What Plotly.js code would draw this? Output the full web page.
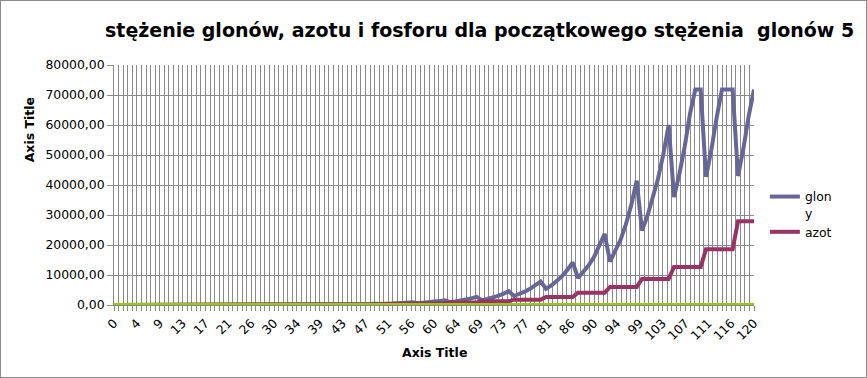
<!DOCTYPE html>
<html>
<head>
<meta charset="utf-8">
<script src="https://cdn.plot.ly/plotly-3.0.1.min.js"></script>
<style>
  html, body { margin: 0; padding: 0; background: #ffffff; }
  #wrap { position: relative; width: 867px; height: 378px; }
  #chart { width: 867px; height: 378px; }
  #frame { position: absolute; left: 0; top: 0; width: 865px; height: 376px; border: 1px solid #8c8c8c; pointer-events: none; }
</style>
</head>
<body>
<div id="wrap"><div id="chart"></div><div id="frame"></div></div>
<script>
// ---- data ----
const czas = [0,1,2,3,4,5,6,7,8,9,10,11,12,13,14,15,16,17,18,19,20,21,22,23,24,25,26,27,28,29,30,
  31,32,33,34,35,36,37,38,39,40,41,42,43,44,45,46,47,48,49,50,51,52,53,54,55,56,57,58,59,60,
  61,62,63,64,65,66,67,68,69,70,71,72,73,74,75,76,77,78,79,80,81,82,83,84,85,86,87,88,89,90,
  91,92,93,94,95,96,97,98,99,100,101,102,103,104,105,106,107,108,109,110,111,112,113,114,115,116,117,118,119,120];

const glony = [5, 6, 8, 5, 6, 7.5, 9, 11.5, 14,
  8.5, 10.5, 13, 16, 19, 23,
  14, 17, 21, 26, 32, 40,
  24, 29, 36, 45, 55, 68,
  41, 50, 62, 76, 94, 115,
  69, 85, 105, 128, 158, 195,
  117, 144, 177, 218, 268, 330,
  198, 244, 300, 370, 455, 560,
  336, 413, 508, 625, 770, 950,
  570, 700, 860, 1060, 1300, 1600,
  960, 1180, 1450, 1790, 2200, 2700,
  1620, 2000, 2450, 3020, 3720, 4600,
  3000, 3650, 4450, 5400, 6500, 7800,
  5400, 6500, 8000, 9600, 11700, 14200,
  9000, 10900, 13200, 16000, 19500, 23700,
  14500, 17800, 21800, 27000, 33400, 41400,
  24800, 29600, 35300, 42100, 50200, 60000,
  36000, 43600, 52700, 63800, 71800, 71800,
  42700, 51700, 62500, 71800, 71800, 71800,
  43000, 52000, 63000, 71800];

const azot = [12, 12, 12,
  17, 17, 17, 17, 17, 17,
  25, 25, 25, 25, 25, 25,
  37, 37, 37, 37, 37, 37,
  55, 55, 55, 55, 55, 55,
  80, 80, 80, 80, 80, 80,
  120, 120, 120, 120, 120, 120,
  175, 175, 175, 175, 175, 175,
  260, 260, 260, 260, 260, 260,
  380, 380, 380, 380, 380, 380,
  560, 560, 560, 560, 560, 560,
  820, 820, 820, 820, 820, 820,
  1210, 1210, 1210, 1210, 1210, 1210,
  1780, 1780, 1780, 1780, 1780, 1780,
  2650, 2650, 2650, 2650, 2650, 2650,
  4100, 4100, 4100, 4100, 4100, 4100,
  6000, 6000, 6000, 6000, 6000, 6000,
  8700, 8700, 8700, 8700, 8700, 8700,
  12700, 12700, 12700, 12700, 12700, 12700,
  18600, 18600, 18600, 18600, 18600, 18600,
  27900, 27900, 27900, 27900];

const fosfor = [0,0,0,0,0,0,0,0,0,0,0,0,0,0,0,0,0,0,0,0,0,0,0,0,0,0,0,0,0,0,0,
  0,0,0,0,0,0,0,0,0,0,0,0,0,0,0,0,0,0,0,0,0,0,0,0,0,0,0,0,0,0,
  0,0,0,0,0,0,0,0,0,0,0,0,0,0,0,0,0,0,0,0,0,0,0,0,0,0,0,0,0,0,
  0,0,0,0,0,0,0,0,0,0,0,0,0,0,0,0,0,0,0,0,0,0,0,0,0,0,0,0,0,0];

const xTickLabels = ['0','4','9','13','17','21','26','30','34','39','43','47','51','56','60','64','69','73','77','81','86','90','94','99','103','107','111','116','120'];
const yTickValues = [0, 10000, 20000, 30000, 40000, 50000, 60000, 70000, 80000];

const seriesNames = ['glon<br>y', 'azot', 'fosfor'];
const titleText = 'stężenie glonów, azotu i fosforu dla początkowego stężenia  glonów 5';
const axisTitleText = 'Axis Title';

// ---- layout helpers ----
const xMax = czas[czas.length - 1];
const nMajor = xTickLabels.length - 1;
const majorVals = xTickLabels.map((_, k) => k * xMax / nMajor);
const nMinor = nMajor * 5;
const minorVals = [];
for (let k = 0; k <= nMinor; k++) minorVals.push(k * xMax / nMinor);

const FONT = 'DejaVu Sans, Liberation Sans, sans-serif';
const GRID = '#8a8a8a';

const traces = [
  { x: czas, y: glony, name: seriesNames[0], type: 'scatter', mode: 'lines',
    line: { color: '#666699', width: 4 } },
  { x: czas, y: azot, name: seriesNames[1], type: 'scatter', mode: 'lines',
    line: { color: '#993366', width: 4 } },
  { x: czas, y: fosfor, name: seriesNames[2], type: 'scatter', mode: 'lines',
    line: { color: '#99cc00', width: 4 }, showlegend: false }
];

const layout = {
  width: 867, height: 378,
  margin: { l: 114, r: 113, t: 65, b: 73, pad: 0 },
  paper_bgcolor: '#ffffff', plot_bgcolor: '#ffffff',
  separators: ', ',
  font: { family: FONT, size: 12.4, color: '#000000' },
  title: { text: titleText, font: { family: FONT, size: 19, color: '#000000', weight: 'bold' },
           xref: 'container', x: 105 / 867, xanchor: 'left', yref: 'container', y: 1 - 30 / 378, yanchor: 'middle' },
  xaxis: {
    type: 'linear', range: [0, xMax], fixedrange: true,
    tickmode: 'array', tickvals: majorVals, ticktext: xTickLabels, tickangle: -45,
    ticks: 'outside', ticklen: 5, tickcolor: GRID, tickwidth: 1,
    showgrid: true, gridcolor: GRID, gridwidth: 1,
    minor: { tickmode: 'array', tickvals: minorVals, ticks: 'outside', ticklen: 5, tickcolor: GRID,
             showgrid: true, gridcolor: GRID, gridwidth: 1 },
    showline: true, linecolor: GRID, zeroline: false,
    tickfont: { family: FONT, size: 12.4, color: '#000000' }
  },
  yaxis: {
    range: [0, 80000], fixedrange: true,
    tickmode: 'array', tickvals: yTickValues, tickformat: '.2f',
    ticks: 'outside', ticklen: 6, tickcolor: GRID,
    showgrid: true, gridcolor: GRID, gridwidth: 1,
    showline: true, linecolor: GRID, zeroline: false,
    tickfont: { family: FONT, size: 12.4, color: '#000000' }
  },
  legend: {
    x: 1.017, xanchor: 'left', y: 0.5125, yanchor: 'top', valign: 'top',
    font: { family: FONT, size: 12.4, color: '#000000' },
    bgcolor: 'rgba(0,0,0,0)', borderwidth: 0, tracegroupgap: 0
  },
  annotations: [
    { text: axisTitleText, xref: 'paper', yref: 'paper', x: 0.5, y: -(352 - 304.7) / 240,
      xanchor: 'center', yanchor: 'middle', showarrow: false,
      font: { family: FONT, size: 12.5, color: '#000000', weight: 'bold' } },
    { text: axisTitleText, xref: 'paper', yref: 'paper', x: -(114 - 29) / 640, y: (304.7 - 130) / 240,
      xanchor: 'center', yanchor: 'middle', showarrow: false, textangle: -90,
      font: { family: FONT, size: 12.5, color: '#000000', weight: 'bold' } }
  ]
};

Plotly.newPlot('chart', traces, layout, { displayModeBar: false, staticPlot: true });
</script>
</body>
</html>
